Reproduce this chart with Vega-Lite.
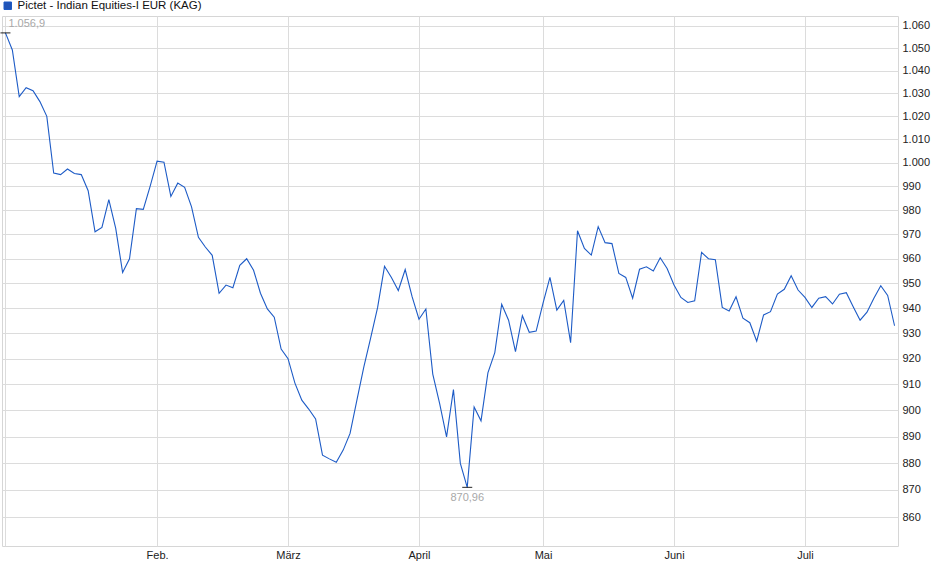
{
  "$schema": "https://vega.github.io/schema/vega-lite/v6.json",
  "width": 896,
  "height": 530,
  "autosize": {"type": "none"},
  "padding": {"left": 2, "top": 16, "right": 42, "bottom": 33},
  "background": "white",
  "config": {
    "locale": {"number": {"decimal": ",", "thousands": ".", "grouping": [3], "currency": ["", " €"]}},
    "font": "Liberation Sans",
    "view": {"stroke": "#d6d6d6"},
    "axis": {
      "labelFont": "Liberation Sans",
      "labelFontSize": 11,
      "labelColor": "#222",
      "gridColor": "#dcdcdc",
      "domain": false,
      "ticks": false,
      "title": null
    }
  },
  "data": {
    "values": [
      {"date": "2025-01-02", "v": 1056.9},
      {"date": "2025-01-03", "v": 1049.2},
      {"date": "2025-01-06", "v": 1028.6},
      {"date": "2025-01-07", "v": 1032.5},
      {"date": "2025-01-08", "v": 1031.2},
      {"date": "2025-01-09", "v": 1026.4},
      {"date": "2025-01-10", "v": 1020.0},
      {"date": "2025-01-13", "v": 995.7},
      {"date": "2025-01-14", "v": 995.0},
      {"date": "2025-01-15", "v": 997.4},
      {"date": "2025-01-16", "v": 995.5},
      {"date": "2025-01-17", "v": 995.0},
      {"date": "2025-01-20", "v": 988.2},
      {"date": "2025-01-21", "v": 971.1},
      {"date": "2025-01-22", "v": 972.9},
      {"date": "2025-01-23", "v": 984.5},
      {"date": "2025-01-24", "v": 972.5},
      {"date": "2025-01-27", "v": 954.4},
      {"date": "2025-01-28", "v": 960.0},
      {"date": "2025-01-29", "v": 980.7},
      {"date": "2025-01-30", "v": 980.4},
      {"date": "2025-01-31", "v": 990.1},
      {"date": "2025-02-03", "v": 1000.7},
      {"date": "2025-02-04", "v": 1000.3},
      {"date": "2025-02-05", "v": 985.8},
      {"date": "2025-02-06", "v": 991.4},
      {"date": "2025-02-07", "v": 989.6},
      {"date": "2025-02-10", "v": 981.4},
      {"date": "2025-02-11", "v": 968.8},
      {"date": "2025-02-12", "v": 964.8},
      {"date": "2025-02-13", "v": 961.4},
      {"date": "2025-02-14", "v": 946.0},
      {"date": "2025-02-17", "v": 949.3},
      {"date": "2025-02-18", "v": 948.2},
      {"date": "2025-02-19", "v": 957.3},
      {"date": "2025-02-20", "v": 960.0},
      {"date": "2025-02-21", "v": 955.3},
      {"date": "2025-02-24", "v": 946.0},
      {"date": "2025-02-25", "v": 939.7},
      {"date": "2025-02-27", "v": 936.4},
      {"date": "2025-02-28", "v": 923.8},
      {"date": "2025-03-03", "v": 920.0},
      {"date": "2025-03-04", "v": 910.5},
      {"date": "2025-03-05", "v": 903.9},
      {"date": "2025-03-06", "v": 900.5},
      {"date": "2025-03-07", "v": 896.7},
      {"date": "2025-03-10", "v": 883.0},
      {"date": "2025-03-11", "v": 881.6},
      {"date": "2025-03-12", "v": 880.3},
      {"date": "2025-03-13", "v": 884.9},
      {"date": "2025-03-17", "v": 891.2},
      {"date": "2025-03-18", "v": 904.0},
      {"date": "2025-03-19", "v": 916.8},
      {"date": "2025-03-20", "v": 928.3},
      {"date": "2025-03-21", "v": 940.3},
      {"date": "2025-03-24", "v": 956.9},
      {"date": "2025-03-25", "v": 952.4},
      {"date": "2025-03-26", "v": 947.1},
      {"date": "2025-03-27", "v": 955.6},
      {"date": "2025-03-28", "v": 944.6},
      {"date": "2025-04-01", "v": 935.6},
      {"date": "2025-04-02", "v": 939.7},
      {"date": "2025-04-03", "v": 914.0},
      {"date": "2025-04-04", "v": 902.6},
      {"date": "2025-04-07", "v": 889.9},
      {"date": "2025-04-08", "v": 908.0},
      {"date": "2025-04-09", "v": 879.9},
      {"date": "2025-04-11", "v": 870.96},
      {"date": "2025-04-15", "v": 901.3},
      {"date": "2025-04-16", "v": 896.0},
      {"date": "2025-04-17", "v": 914.5},
      {"date": "2025-04-22", "v": 922.4},
      {"date": "2025-04-23", "v": 941.6},
      {"date": "2025-04-24", "v": 935.2},
      {"date": "2025-04-25", "v": 922.8},
      {"date": "2025-04-28", "v": 937.0},
      {"date": "2025-04-29", "v": 930.4},
      {"date": "2025-04-30", "v": 930.9},
      {"date": "2025-05-02", "v": 942.0},
      {"date": "2025-05-05", "v": 952.4},
      {"date": "2025-05-06", "v": 939.2},
      {"date": "2025-05-07", "v": 943.1},
      {"date": "2025-05-08", "v": 926.3},
      {"date": "2025-05-12", "v": 971.5},
      {"date": "2025-05-13", "v": 964.2},
      {"date": "2025-05-14", "v": 961.5},
      {"date": "2025-05-15", "v": 973.2},
      {"date": "2025-05-16", "v": 966.6},
      {"date": "2025-05-19", "v": 966.2},
      {"date": "2025-05-20", "v": 954.0},
      {"date": "2025-05-21", "v": 952.4},
      {"date": "2025-05-22", "v": 944.0},
      {"date": "2025-05-23", "v": 955.7},
      {"date": "2025-05-26", "v": 956.7},
      {"date": "2025-05-27", "v": 955.0},
      {"date": "2025-05-28", "v": 960.4},
      {"date": "2025-05-30", "v": 956.0},
      {"date": "2025-06-02", "v": 949.3},
      {"date": "2025-06-03", "v": 944.3},
      {"date": "2025-06-04", "v": 942.3},
      {"date": "2025-06-05", "v": 943.0},
      {"date": "2025-06-06", "v": 962.6},
      {"date": "2025-06-10", "v": 960.0},
      {"date": "2025-06-11", "v": 959.6},
      {"date": "2025-06-12", "v": 940.3},
      {"date": "2025-06-13", "v": 938.9},
      {"date": "2025-06-16", "v": 944.6},
      {"date": "2025-06-17", "v": 936.0},
      {"date": "2025-06-18", "v": 934.2},
      {"date": "2025-06-19", "v": 926.9},
      {"date": "2025-06-20", "v": 937.3},
      {"date": "2025-06-24", "v": 938.6},
      {"date": "2025-06-25", "v": 945.7},
      {"date": "2025-06-26", "v": 947.6},
      {"date": "2025-06-27", "v": 953.1},
      {"date": "2025-06-30", "v": 947.3},
      {"date": "2025-07-01", "v": 944.3},
      {"date": "2025-07-02", "v": 940.3},
      {"date": "2025-07-03", "v": 944.0},
      {"date": "2025-07-04", "v": 944.6},
      {"date": "2025-07-07", "v": 941.7},
      {"date": "2025-07-08", "v": 945.6},
      {"date": "2025-07-09", "v": 946.2},
      {"date": "2025-07-10", "v": 940.6},
      {"date": "2025-07-11", "v": 935.2},
      {"date": "2025-07-14", "v": 938.4},
      {"date": "2025-07-15", "v": 944.0},
      {"date": "2025-07-16", "v": 949.0},
      {"date": "2025-07-17", "v": 945.1},
      {"date": "2025-07-18", "v": 933.0}
    ]
  },
  "encoding": {
    "x": {
      "field": "date",
      "type": "ordinal",
      "scale": {"type": "point", "padding": 0.5},
      "axis": {
        "values": ["2025-01-02", "2025-02-03", "2025-03-03", "2025-04-01", "2025-05-02", "2025-06-02", "2025-07-01"],
        "labelExpr": "['', '', 'Feb.', 'März', 'April', 'Mai', 'Juni', 'Juli'][toNumber(slice(datum.value, 5, 7))]",
        "labelAngle": 0,
        "labelPadding": 3,
        "grid": true
      }
    },
    "y": {
      "field": "v",
      "type": "quantitative",
      "scale": {"type": "log", "domain": [849.5, 1064.5], "nice": false, "zero": false},
      "axis": {
        "orient": "right",
        "values": [860, 870, 880, 890, 900, 910, 920, 930, 940, 950, 960, 970, 980, 990, 1000, 1010, 1020, 1030, 1040, 1050, 1060],
        "format": ",d",
        "labelPadding": 4,
        "grid": true
      }
    }
  },
  "layer": [
    {
      "mark": {"type": "line", "strokeWidth": 1.1},
      "encoding": {
        "color": {
          "datum": "Pictet - Indian Equities-I EUR (KAG)",
          "scale": {"range": ["#1d5bc6"]},
          "legend": {
            "orient": "none",
            "legendX": 0,
            "legendY": -16,
            "title": null,
            "padding": 0,
            "symbolType": "square",
            "symbolSize": 56,
            "symbolStrokeWidth": 1,
            "labelFont": "Liberation Sans",
            "labelFontSize": 11.5,
            "labelColor": "#111",
            "labelOffset": 4,
            "labelLimit": 400,
            "encode": {
              "symbols": {"update": {"fill": {"value": "#2154b7"}, "stroke": {"value": "#0f2a66"}, "fillOpacity": {"value": 1}}}
            }
          }
        }
      }
    },
    {
      "transform": [
        {"joinaggregate": [{"op": "max", "field": "v", "as": "vmax"}, {"op": "min", "field": "v", "as": "vmin"}]},
        {"filter": "datum.v == datum.vmax || datum.v == datum.vmin"}
      ],
      "mark": {"type": "tick", "color": "black", "size": 10, "thickness": 1.2}
    },
    {
      "transform": [
        {"joinaggregate": [{"op": "max", "field": "v", "as": "vmax"}]},
        {"filter": "datum.v == datum.vmax"}
      ],
      "mark": {"type": "text", "align": "left", "baseline": "middle", "dx": 3, "dy": -9, "fontSize": 11, "color": "#a8a8a8"},
      "encoding": {"text": {"field": "v", "type": "quantitative", "format": ",.5r"}}
    },
    {
      "transform": [
        {"joinaggregate": [{"op": "min", "field": "v", "as": "vmin"}]},
        {"filter": "datum.v == datum.vmin"}
      ],
      "mark": {"type": "text", "align": "center", "baseline": "middle", "dy": 11, "fontSize": 11, "color": "#a8a8a8"},
      "encoding": {"text": {"field": "v", "type": "quantitative", "format": ",.5r"}}
    }
  ]
}
